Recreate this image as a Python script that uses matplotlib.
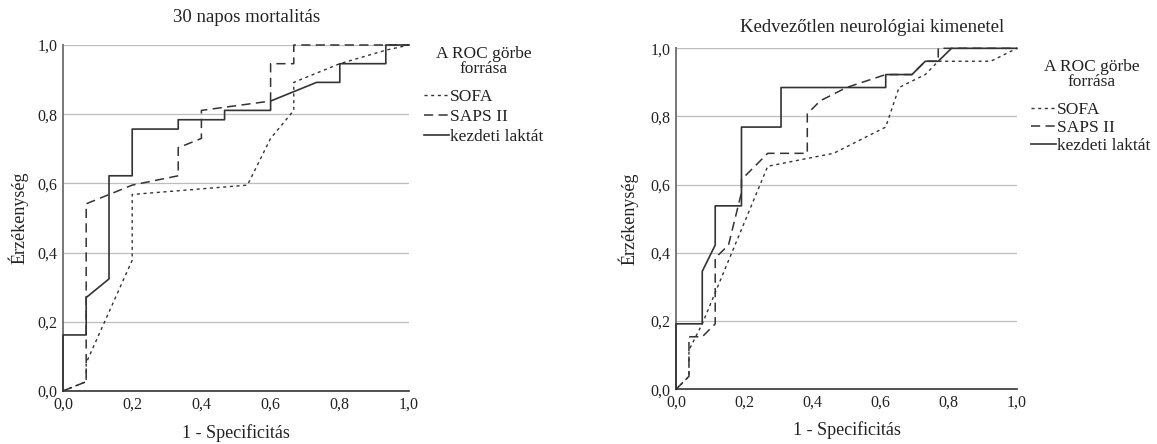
import matplotlib
matplotlib.use("Agg")
import matplotlib.pyplot as plt

plt.rcParams['font.family'] = ['Liberation Serif', 'DejaVu Serif']

# 30 napos mortalitás
sofa_left_x = [0, 0.067, 0.067, 0.2, 0.2, 0.533, 0.6, 0.667, 0.667, 0.8, 0.933, 1]
sofa_left_y = [0, 0.027, 0.081, 0.378, 0.568, 0.595, 0.73, 0.811, 0.892, 0.946, 0.985, 1]
saps_left_x = [0, 0.067, 0.067, 0.2, 0.333, 0.333, 0.4, 0.4, 0.6, 0.6, 0.667, 0.667, 1]
saps_left_y = [0, 0.027, 0.541, 0.595, 0.622, 0.703, 0.730, 0.811, 0.838, 0.946, 0.946, 1, 1]
lact_left_x = [0, 0, 0.067, 0.067, 0.133, 0.133, 0.2, 0.2, 0.333, 0.333, 0.467, 0.467,
               0.6, 0.6, 0.733, 0.8, 0.8, 0.933, 0.933, 1]
lact_left_y = [0, 0.162, 0.162, 0.27, 0.324, 0.622, 0.622, 0.757, 0.757, 0.784, 0.784, 0.811,
               0.811, 0.838, 0.892, 0.892, 0.946, 0.946, 1, 1]

# Kedvezőtlen neurológiai kimenetel
sofa_right_x = [0, 0.038, 0.038, 0.077, 0.269, 0.385, 0.462, 0.615, 0.654, 0.731, 0.769, 0.923, 1]
sofa_right_y = [0, 0.038, 0.115, 0.192, 0.654, 0.677, 0.692, 0.769, 0.885, 0.923, 0.962, 0.962, 1]
saps_right_x = [0, 0.038, 0.038, 0.077, 0.115, 0.115, 0.154, 0.192, 0.192, 0.269, 0.385, 0.385,
                0.423, 0.5, 0.615, 0.692, 0.731, 0.769, 0.769, 1]
saps_right_y = [0, 0.038, 0.154, 0.154, 0.192, 0.385, 0.423, 0.577, 0.615, 0.692, 0.692, 0.808,
                0.846, 0.885, 0.923, 0.923, 0.962, 0.962, 1, 1]
lact_right_x = [0, 0, 0.077, 0.077, 0.115, 0.115, 0.192, 0.192, 0.308, 0.308, 0.615, 0.615,
                0.692, 0.731, 0.769, 0.808, 1]
lact_right_y = [0, 0.192, 0.192, 0.346, 0.423, 0.538, 0.538, 0.769, 0.769, 0.885, 0.885, 0.923,
                0.923, 0.962, 0.962, 1, 1]

ticks = [0, 0.2, 0.4, 0.6, 0.8, 1.0]
tick_labels = ['0,0', '0,2', '0,4', '0,6', '0,8', '1,0']
series_names = ['SOFA', 'SAPS II', 'kezdeti laktát']
titles = ['30 napos mortalitás', 'Kedvezőtlen neurológiai kimenetel']
legend_title = 'A ROC görbe\nforrása'

W, H = 1157, 444
fig = plt.figure(figsize=(W / 100, H / 100), dpi=100)

def fx(px):
    return px / W

def fy(py):
    return 1 - py / H

panels = [
    dict(box=(63, 409, 45, 391), data=[(sofa_left_x, sofa_left_y), (saps_left_x, saps_left_y),
                                       (lact_left_x, lact_left_y)],
         title_xy=(247, 18), legt_xy=(484, 61.5), leg_xy=(424, 89), spacing=0.23, ylab_x=-0.13),
    dict(box=(676, 1017, 48.3, 389.3), data=[(sofa_right_x, sofa_right_y), (saps_right_x, saps_right_y),
                                             (lact_right_x, lact_right_y)],
         title_xy=(872, 27), legt_xy=(1092, 74.5), leg_xy=(1031, 102), spacing=0.09, ylab_x=-0.141),
]

styles = [dict(ls=(0, (2.2, 2.6)), lw=1.0), dict(ls=(0, (6, 3.5)), lw=1.1), dict(ls='-', lw=1.2)]
line_col = '#333333'
text_col = '#222222'

for i, p in enumerate(panels):
    l, r, t, b = p['box']
    ax = fig.add_axes([fx(l), fy(b), fx(r) - fx(l), fy(t) - fy(b)])
    for (xs, ys), st, name in zip(p['data'], styles, series_names):
        ax.plot(xs, ys, color=line_col, linestyle=st['ls'], lw=st['lw'], label=name,
                clip_on=False, zorder=3)
    ax.set_xlim(0, 1)
    ax.set_ylim(0, 1)
    ax.set_xticks(ticks)
    ax.set_xticklabels(tick_labels)
    ax.set_yticks(ticks)
    ax.set_yticklabels(tick_labels)
    ax.tick_params(length=0, labelsize=11.5, pad=4, colors=text_col)
    ax.yaxis.grid(True, color='#bdbdbd', lw=0.9)
    ax.set_axisbelow(True)
    for s in ['top', 'right']:
        ax.spines[s].set_visible(False)
    ax.spines['left'].set_color('#777777')
    ax.spines['left'].set_linewidth(1.4)
    ax.spines['bottom'].set_color('#333333')
    ax.spines['bottom'].set_linewidth(1.2)
    ax.set_xlabel('1 - Specificitás', fontsize=13, color=text_col)
    ax.set_ylabel('Érzékenység', fontsize=13, color=text_col)
    ax.xaxis.set_label_coords(0.5, -0.121)
    ax.xaxis.label.set_va('center')
    ax.yaxis.set_label_coords(p['ylab_x'], 0.5)
    ax.yaxis.label.set_va('center')
    fig.text(fx(p['title_xy'][0]), fy(p['title_xy'][1]), titles[i], fontsize=13.5,
             ha='center', va='center', color=text_col)
    # legend title drawn separately so the gap above the entries matches
    fig.text(fx(p['legt_xy'][0]), fy(p['legt_xy'][1]), legend_title, fontsize=12.5,
             ha='center', va='center', multialignment='center', linespacing=0.95, color=text_col)
    ax.legend(loc='upper left', bbox_to_anchor=(fx(p['leg_xy'][0]), fy(p['leg_xy'][1])),
              bbox_transform=fig.transFigure, frameon=False, fontsize=12.5,
              handlelength=1.45, handletextpad=0.05, labelspacing=p['spacing'],
              borderpad=0, borderaxespad=0, labelcolor=text_col)

fig.savefig('out.png', dpi=100)
